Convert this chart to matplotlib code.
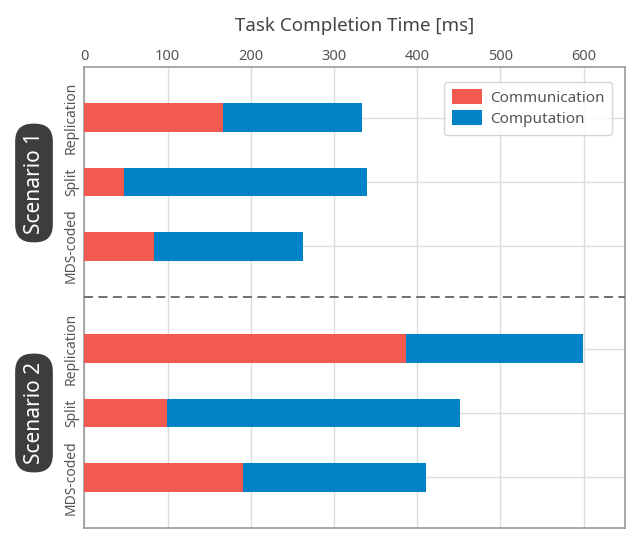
import matplotlib
matplotlib.use('Agg')
import matplotlib.pyplot as plt

plt.rcParams['font.family'] = ['Noto Sans', 'DejaVu Sans']

methods = ['Replication', 'Split', 'MDS-coded']
comm_s1 = [167, 48, 84]
total_s1 = [334, 339, 263]
comm_s2 = [386, 99, 190]
total_s2 = [599, 451, 411]

comm = comm_s1 + comm_s2
comp = [t - c for t, c in zip(total_s1 + total_s2, comm)]
ypos = [0, 1, 2, 3.6, 4.6, 5.6]
labels = methods + methods

red = '#F25A50'
blue = '#0083C6'
grey = '#555555'

fig = plt.figure(figsize=(6.4, 5.54), dpi=100)
ax = fig.add_axes([0.132, 0.047, 0.845, 0.832])

ax.barh(ypos, comm, height=0.45, color=red, label='Communication', zorder=3)
ax.barh(ypos, comp, left=comm, height=0.45, color=blue, label='Computation', zorder=3)

ax.set_xlim(0, 650)
ax.set_ylim(6.39, -0.79)
ax.set_xticks([0, 100, 200, 300, 400, 500, 600])
ax.set_yticks(ypos)
ax.set_yticklabels(labels, rotation=90, va='center', fontsize=10, color=grey)
ax.xaxis.tick_top()
ax.xaxis.set_label_position('top')
ax.set_xlabel('Task Completion Time [ms]', fontsize=13.5, color='#444444', labelpad=13)
ax.tick_params(axis='x', length=0, labelsize=10.5, labelcolor=grey, pad=2)
ax.tick_params(axis='y', length=0, pad=4)
ax.grid(True, color='#dddddd', linewidth=1, zorder=0)
for s in ax.spines.values():
    s.set_color('#999999')
    s.set_linewidth(1.2)

ax.axhline(2.79, color='#666666', linestyle=(0, (5, 3)), linewidth=1.3, zorder=4)

leg = ax.legend(loc='upper right', fontsize=11, frameon=True, fancybox=True,
                handlelength=2.0, handleheight=1.1, borderpad=0.5,
                labelspacing=0.3, handletextpad=0.5, bbox_to_anchor=(0.99, 0.985))
leg.get_frame().set_edgecolor('#cccccc')
for t in leg.get_texts():
    t.set_color(grey)

for txt, y in [('Scenario 1', 183), ('Scenario 2', 413)]:
    fig.text(34 / 640, 1 - y / 554, txt, rotation=90, ha='center', va='center',
             fontsize=15, color='white',
             bbox=dict(boxstyle='round,pad=0.4,rounding_size=0.85',
                       facecolor='#3d3d3d', edgecolor='none'))

fig.savefig('out.png', dpi=100)
